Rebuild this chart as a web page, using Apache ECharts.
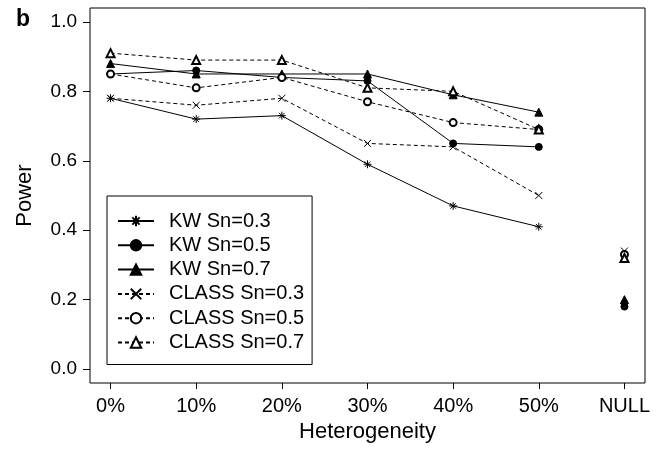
<!DOCTYPE html>
<html>
<head>
<meta charset="utf-8">
<script src="https://cdn.jsdelivr.net/npm/echarts@6/dist/echarts.min.js"></script>
<style>
  html, body { margin: 0; padding: 0; background: #fff; }
  #chart { width: 662px; height: 452px; }
</style>
</head>
<body>
<div id="chart"></div>
<script>
// x categories (NULL is drawn apart, not joined to the lines)
const xLabels = ['0%', '10%', '20%', '30%', '40%', '50%', 'NULL'];
const yTicks = [0, 0.2, 0.4, 0.6, 0.8, 1.0];

// power per heterogeneity level, 0% .. 50%
const kw03 = [0.78, 0.72, 0.73, 0.59, 0.47, 0.41];
const kw05 = [0.85, 0.86, 0.84, 0.83, 0.65, 0.64];
const kw07 = [0.88, 0.85, 0.85, 0.85, 0.79, 0.74];
const class03 = [0.78, 0.76, 0.78, 0.65, 0.64, 0.50];
const class05 = [0.85, 0.81, 0.84, 0.77, 0.71, 0.69];
const class07 = [0.91, 0.89, 0.89, 0.81, 0.80, 0.69];

// power under the NULL setting
const nullKw = [0.19, 0.18, 0.20];
const nullClass = [0.34, 0.33, 0.32];

const FONT = '"Liberation Sans", Arial, Helvetica, sans-serif';
const ASTERISK = 'path://M0,5L10,5M5,0L5,10M1.5,1.5L8.5,8.5M8.5,1.5L1.5,8.5';
const CROSS = 'path://M0,0L10,10M10,0L0,10';

// line through 0%..50%, then a gap, then the lone NULL point
function makeSeries(name, vals, nullVal, symbol, size, dashed) {
    const data = vals.map((v, i) => [i, v]);
    data.push('-');
    data.push([xLabels.length - 1, nullVal]);
    return {
        name: name,
        type: 'line',
        data: data,
        connectNulls: false,
        symbol: symbol,
        symbolSize: size,
        showSymbol: true,
        showAllSymbol: true,
        z: 3,
        lineStyle: { color: '#000', width: 1, type: dashed ? [4, 3] : 'solid' },
        itemStyle: { color: '#000', borderColor: '#000', borderWidth: 1 },
        emphasis: { disabled: true }
    };
}

const chart = echarts.init(document.getElementById('chart'), null, { renderer: 'canvas' });

const option = {
    animation: false,
    backgroundColor: '#fff',
    textStyle: { fontFamily: FONT, color: '#000' },
    grid: {
        left: 90, top: 8, right: 17, bottom: 69,
        show: true, borderColor: '#000', borderWidth: 1
    },
    graphic: [{
        type: 'text', left: 16, top: 8,
        style: { text: 'b', font: 'bold 23px ' + FONT, fill: '#000' }
    }],
    legend: {
        orient: 'vertical',
        left: 107, top: 196,
        borderColor: '#000', borderWidth: 1, borderRadius: 0,
        padding: [15, 8, 12, 10],
        itemWidth: 36, itemHeight: 13,
        itemGap: 4.3,
        selectedMode: false,
        textStyle: { fontFamily: FONT, fontSize: 20, color: '#000', padding: [0, 0, 0, 10] },
        data: ['KW Sn=0.3', 'KW Sn=0.5', 'KW Sn=0.7', 'CLASS Sn=0.3', 'CLASS Sn=0.5', 'CLASS Sn=0.7']
    },
    xAxis: {
        type: 'value',
        min: -0.24, max: 6.24,
        name: 'Heterogeneity',
        nameLocation: 'middle',
        nameGap: 36,
        nameTextStyle: { fontFamily: FONT, fontSize: 22, color: '#000' },
        axisLine: { show: false, onZero: false },
        splitLine: { show: false },
        axisTick: {
            show: true, inside: false, length: 6,
            customValues: xLabels.map((_, i) => i),
            lineStyle: { color: '#000', width: 1 }
        },
        axisLabel: {
            customValues: xLabels.map((_, i) => i),
            formatter: v => xLabels[Math.round(v)],
            margin: 13, fontSize: 20, color: '#000', fontFamily: FONT
        }
    },
    yAxis: {
        type: 'value',
        min: -0.04, max: 1.04,
        name: 'Power',
        nameLocation: 'middle',
        nameGap: 54,
        nameTextStyle: { fontFamily: FONT, fontSize: 22, color: '#000' },
        axisLine: { show: false, onZero: false },
        splitLine: { show: false },
        axisTick: {
            show: true, inside: false, length: 7,
            customValues: yTicks,
            lineStyle: { color: '#000', width: 1 }
        },
        axisLabel: {
            customValues: yTicks,
            formatter: v => v.toFixed(1),
            margin: 13, fontSize: 19, color: '#000', fontFamily: FONT
        }
    },
    series: [
        makeSeries('KW Sn=0.3', kw03, nullKw[0], ASTERISK, 8, false),
        makeSeries('KW Sn=0.5', kw05, nullKw[1], 'circle', 7, false),
        makeSeries('KW Sn=0.7', kw07, nullKw[2], 'triangle', 8, false),
        makeSeries('CLASS Sn=0.3', class03, nullClass[0], CROSS, 7, true),
        makeSeries('CLASS Sn=0.5', class05, nullClass[1], 'emptyCircle', 7, true),
        makeSeries('CLASS Sn=0.7', class07, nullClass[2], 'emptyTriangle', 8, true)
    ]
};

chart.setOption(option);
</script>
</body>
</html>
